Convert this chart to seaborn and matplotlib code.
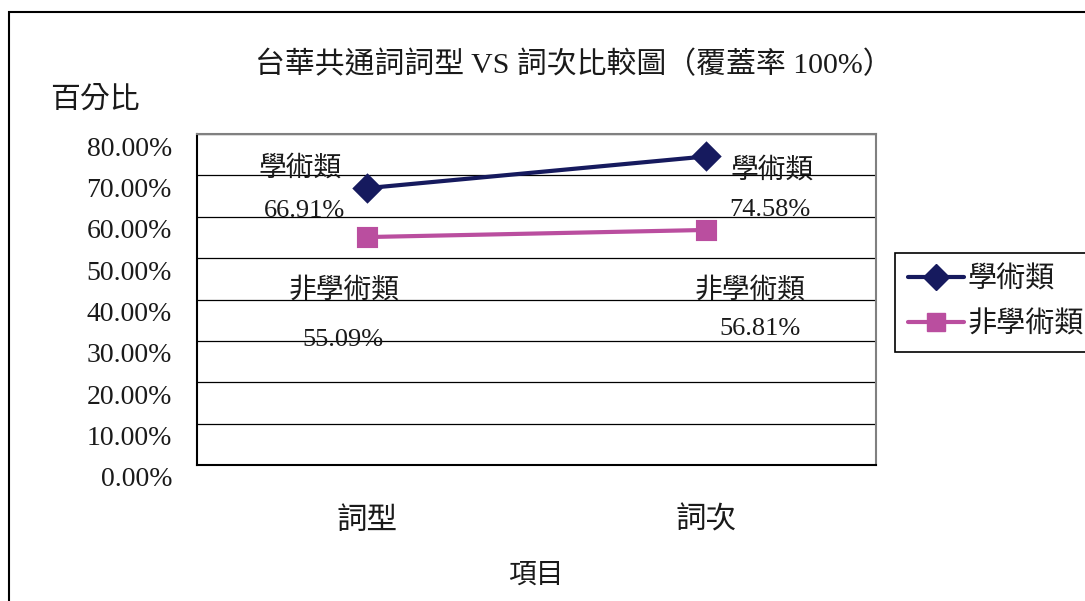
import matplotlib
matplotlib.use("Agg")
import matplotlib.pyplot as plt
import matplotlib.transforms as mtransforms
from matplotlib.lines import Line2D
from matplotlib.patches import Rectangle
import seaborn as sns
import pandas as pd

# ---- data ----
categories = ["詞型", "詞次"]
series_names = ["學術類", "非學術類"]
academic = [0.6691, 0.7458]
non_academic = [0.5509, 0.5681]
value_labels_academic = ["66.91%", "74.58%"]
value_labels_non = ["55.09%", "56.81%"]
ytick_values = [0.0, 0.1, 0.2, 0.3, 0.4, 0.5, 0.6, 0.7, 0.8]
ytick_labels = ["0.00%", "10.00%", "20.00%", "30.00%", "40.00%", "50.00%", "60.00%", "70.00%", "80.00%"]
title = "台華共通詞詞型 VS 詞次比較圖（覆蓋率 100%）"
ylabel = "百分比"
xlabel = "項目"

df = pd.DataFrame({
    "項目": categories * 2,
    "百分比": academic + non_academic,
    "類別": [series_names[0]] * 2 + [series_names[1]] * 2,
})

sns.set_theme(style="white")
FAM = ["Liberation Serif", "Noto Sans CJK TC", "DejaVu Sans"]
plt.rcParams["font.family"] = FAM

colors = ["#161A5E", "#BA4E9F"]
TXT = "#1a1a1a"
W, H, DPI = 1085, 601, 100
fig = plt.figure(figsize=(W / DPI, H / DPI), dpi=DPI)
ax = fig.add_axes([197 / W, 1 - 465 / H, (876 - 197) / W, (465 - 134) / H])

sns.pointplot(data=df, x="項目", y="百分比", hue="類別", palette=colors,
              markers=["D", "s"], linestyles=["-", "-"], errorbar=None,
              markersize=13, linewidth=3, ax=ax, legend=False)

ax.set_ylim(0, 0.8)
ax.set_xlim(-0.5, 1.5)
ax.set_yticks(ytick_values)
ax.set_yticklabels(ytick_labels, fontsize=20, color=TXT)
ax.yaxis.grid(True, color="black", linewidth=0.9, zorder=0)
ax.set_axisbelow(True)
ax.tick_params(axis="y", length=0, pad=18)
off = mtransforms.ScaledTranslation(0, -12 / DPI, fig.dpi_scale_trans)
for lab in ax.get_yticklabels():
    lab.set_transform(lab.get_transform() + off)

ax.set_xticks([0, 1])
ax.set_xticklabels(categories, fontsize=22, color=TXT)
ax.tick_params(axis="x", which="major", length=0, pad=30)
ax.set_xticks([0.5], minor=True)
ax.tick_params(axis="x", which="minor", direction="in", length=9, width=1, color="#555555")
ax.set_xlabel("")
ax.set_ylabel("")

for side in ["left", "bottom"]:
    ax.spines[side].set_color("black")
    ax.spines[side].set_linewidth(1.5)
for side in ["top", "right"]:
    ax.spines[side].set_color("#808080")
    ax.spines[side].set_linewidth(1.5)

# data labels (offsets in pixels)
name_offsets_ac = [(-67, 19), (66, -14)]
value_offsets_ac = [(-62, -23), (64, -54)]
name_offsets_non = [(-23, -54), (44, -61)]
value_offsets_non = [(-24, -103), (54, -99)]
for i in range(len(categories)):
    ax.annotate(series_names[0], (i, academic[i]), xytext=name_offsets_ac[i],
                textcoords="offset pixels", ha="center", va="center", fontsize=20, color=TXT)
    ax.annotate(value_labels_academic[i], (i, academic[i]), xytext=value_offsets_ac[i],
                textcoords="offset pixels", ha="center", va="center", fontsize=19, color=TXT)
    ax.annotate(series_names[1], (i, non_academic[i]), xytext=name_offsets_non[i],
                textcoords="offset pixels", ha="center", va="center", fontsize=20, color=TXT)
    ax.annotate(value_labels_non[i], (i, non_academic[i]), xytext=value_offsets_non[i],
                textcoords="offset pixels", ha="center", va="center", fontsize=19, color=TXT)

# titles
fig.text(574 / W, 1 - 65 / H, title, ha="center", va="center", fontsize=21.5, color=TXT)
fig.text(50 / W, 1 - 100 / H, ylabel, ha="left", va="center", fontsize=21.5, color=TXT)
fig.text(536 / W, 1 - 576 / H, xlabel, ha="center", va="center", fontsize=20, color=TXT)

# legend
handles = [Line2D([], [], color=colors[0], marker="D", markersize=13, linewidth=3),
           Line2D([], [], color=colors[1], marker="s", markersize=13, linewidth=3)]
leg = fig.legend(handles, series_names, loc="upper left",
                 bbox_to_anchor=(895 / W, 1 - 253 / H), fontsize=21,
                 frameon=True, fancybox=False, edgecolor="black", framealpha=1,
                 borderpad=0.45, handlelength=1.9, handletextpad=0.15, labelspacing=0.62,
                 borderaxespad=0, labelcolor=TXT)
leg.get_frame().set_linewidth(1.2)

# outer chart border
fig.add_artist(Rectangle((9 / W, -0.1), 2.0, 1.1 - 12 / H, transform=fig.transFigure,
                         fill=False, edgecolor="black", linewidth=1.5))

fig.savefig("out.png", dpi=DPI)
